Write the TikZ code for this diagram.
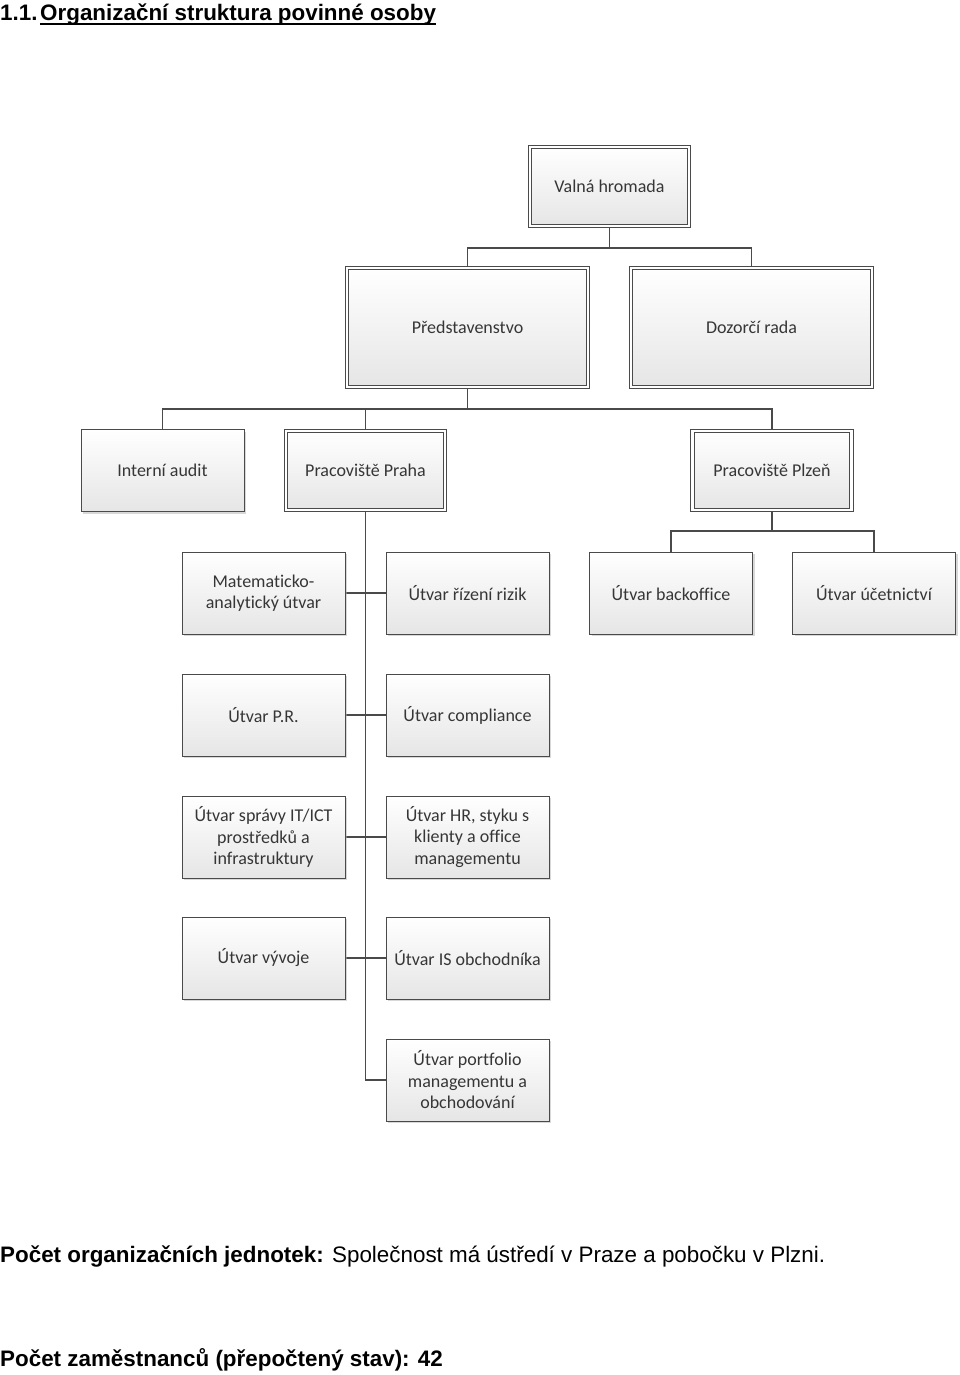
\documentclass[tikz,border=0pt]{standalone}
\usepackage{fontspec}
\setmainfont{Liberation Sans}
\newfontfamily\boxfont[Ligatures=NoCommon]{Carlito}
\usetikzlibrary{shadows,backgrounds}
\definecolor{bordc}{HTML}{4A4A4A}
\definecolor{txtc}{HTML}{363636}
\begin{document}
\begin{tikzpicture}[x=1pt,y=-1pt,
 unit/.style={draw=bordc, line width=0.9pt, top color=white, bottom color=black!10,
   minimum width=163pt, minimum height=82pt, align=center,
   font=\boxfont\fontsize{18}{21.5}\selectfont, text=txtc, inner sep=2pt,
   drop shadow={shadow xshift=2pt, shadow yshift=-2pt, fill=black!30, opacity=0.5}},
 dunit/.style={unit, double=white, double distance=2.6pt, minimum width=159pt, minimum height=79pt},
 link/.style={draw=bordc, line width=1.3pt},
 txt/.style={anchor=base west, inner sep=0pt, text=black}]
\useasboundingbox (0,0) rectangle (960,1375);

% boxes
\node[dunit] (vh) at (609.5,186.5) {Valná hromada};
\node[dunit, minimum width=241pt, minimum height=119pt] (pr) at (467.5,327.5) {Představenstvo};
\node[dunit, minimum width=241pt, minimum height=119pt] (dr) at (751.5,327.5) {Dozorčí rada};
\node[unit] (ia) at (162.5,470.5) {Interní audit};
\node[dunit] (pp) at (365.5,470.5) {Pracoviště Praha};
\node[dunit] (pz) at (772,470.5) {Pracoviště Plzeň};

\node[unit] (ma) at (263.5,593) {Matematicko-\\analytický útvar};
\node[unit] (rr) at (467.5,593) {Útvar řízení rizik};
\node[unit] (bo) at (671,593) {Útvar backoffice};
\node[unit] (uc) at (874,593) {Útvar účetnictví};

\node[unit] (prr) at (263.5,715) {Útvar P.R.};
\node[unit] (co) at (467.5,715) {Útvar compliance};

\node[unit] (it) at (263.5,837) {Útvar správy IT/ICT\\prostředků a\\infrastruktury};
\node[unit] (hr) at (467.5,837) {Útvar HR, styku s\\klienty a office\\managementu};

\node[unit] (vy) at (263.5,958) {Útvar vývoje};
\node[unit] (is) at (467.5,958) {Útvar IS obchodníka};

\node[unit] (pf) at (467.5,1080) {Útvar portfolio\\managementu a\\obchodování};

% connectors
\coordinate (j1) at (609.5,248);
\coordinate (j2) at (467.5,409);
\coordinate (j3) at (772,531);
\coordinate (sp) at (365.5,1080);
\begin{scope}[on background layer]
\draw[link] (vh.south) -- (j1);
\draw[link] (pr.north) |- (j1) -| (dr.north);
\draw[link] (pr.south) -- (j2);
\draw[link] (ia.north) |- (j2) -| (pz.north);
\draw[link] (pp.north) -- (pp.north |- j2);
\draw[link] (pz.south) -- (j3);
\draw[link] (bo.north) |- (j3) -| (uc.north);
\draw[link] (pp.south) -- (sp) -- (pf.west);
\draw[link] (ma.east) -- (rr.west);
\draw[link] (prr.east) -- (co.west);
\draw[link] (it.east) -- (hr.west);
\draw[link] (vy.east) -- (is.west);
\end{scope}

% texts
\node[txt, font=\bfseries\fontsize{22.4}{26}\selectfont] (t1) at (0,21) {1.1.};
\node[txt, font=\bfseries\fontsize{22.4}{26}\selectfont] (t2) at (40,21) {Organizační struktura povinné osoby};
\draw[line width=1.8pt] ([yshift=-2.8pt]t2.base west) -- ([yshift=-2.8pt]t2.base east);

\node[txt, font=\fontsize{22.4}{26}\selectfont] (b1) at (0,1262) {\textbf{Počet organizačních jednotek:} Společnost má ústředí v Praze a pobočku v Plzni.};
\node[txt, font=\bfseries\fontsize{22.4}{26}\selectfont] (b2) at (0,1366) {Počet zaměstnanců (přepočtený stav): 42};
\end{tikzpicture}
\end{document}
